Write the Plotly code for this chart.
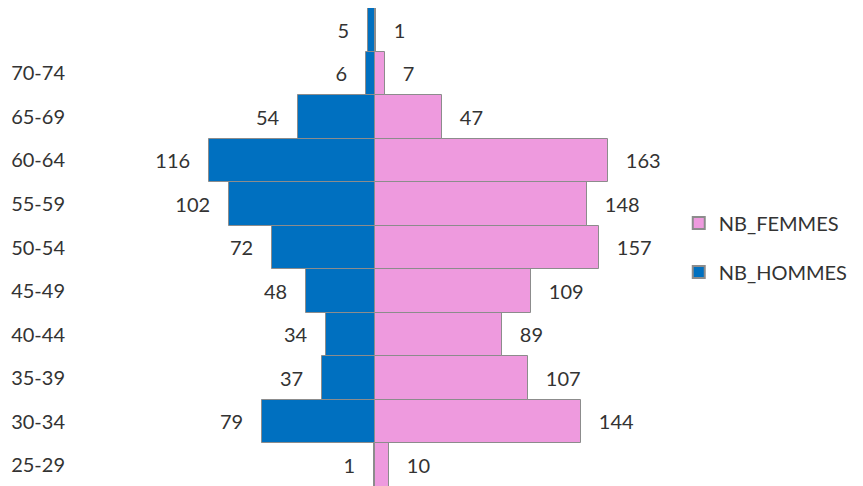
import plotly.graph_objects as go

categories = ["25-29", "30-34", "35-39", "40-44", "45-49", "50-54",
              "55-59", "60-64", "65-69", "70-74", "75+"]
tick_labels = ["25-29", "30-34", "35-39", "40-44", "45-49", "50-54",
               "55-59", "60-64", "65-69", "70-74", ""]
hommes = [1, 79, 37, 34, 48, 72, 102, 116, 54, 6, 5]
femmes = [10, 144, 107, 89, 109, 157, 148, 163, 47, 7, 1]

BLUE = "#0070C0"
PINK = "#EE9ADE"
EDGE = "#8C8C8C"
FONT = "Lato"
TXT = "#333333"

fig = go.Figure()
fig.add_trace(go.Bar(
    y=categories, x=[-v for v in hommes], orientation="h",
    name="NB_HOMMES", legendrank=2, legendgroup="h",
    marker=dict(color=BLUE, line=dict(color=EDGE, width=1)),
    text=[f"{v}   " for v in hommes], textposition="outside",
    constraintext="none", cliponaxis=False,
    textfont=dict(family=FONT, size=20, color=TXT),
    hoverinfo="skip",
))
fig.add_trace(go.Bar(
    y=categories, x=femmes, orientation="h",
    name="NB_FEMMES", legendrank=1, legendgroup="f",
    marker=dict(color=PINK, line=dict(color=EDGE, width=1)),
    text=[f"   {v}" for v in femmes], textposition="outside",
    constraintext="none", cliponaxis=False,
    textfont=dict(family=FONT, size=20, color=TXT),
    hoverinfo="skip",
))

fig.update_layout(
    width=863, height=486,
    margin=dict(l=71, r=180, t=0, b=7),
    barmode="overlay", bargap=0,
    plot_bgcolor="white", paper_bgcolor="white",
    font=dict(family=FONT, size=20, color=TXT),
    showlegend=True,
    legend=dict(x=0.980, xanchor="left", y=0.5, yanchor="middle",
                traceorder="grouped", tracegroupgap=20,
                font=dict(family=FONT, size=20, color=TXT),
                itemsizing="constant"),
    xaxis=dict(range=[-207, 221], showticklabels=False, showgrid=False,
               zeroline=False, showline=False, fixedrange=True,
               automargin=False),
    yaxis=dict(type="category", categoryorder="array", categoryarray=categories,
               tickmode="array", tickvals=categories, ticktext=tick_labels,
               range=[-0.5, 10.5], showgrid=False, zeroline=False, showline=False,
               ticks="outside", ticklen=9, tickcolor="rgba(0,0,0,0)",
               automargin=False,
               tickfont=dict(family=FONT, size=20, color=TXT)),
)

fig.write_html("out.html")
